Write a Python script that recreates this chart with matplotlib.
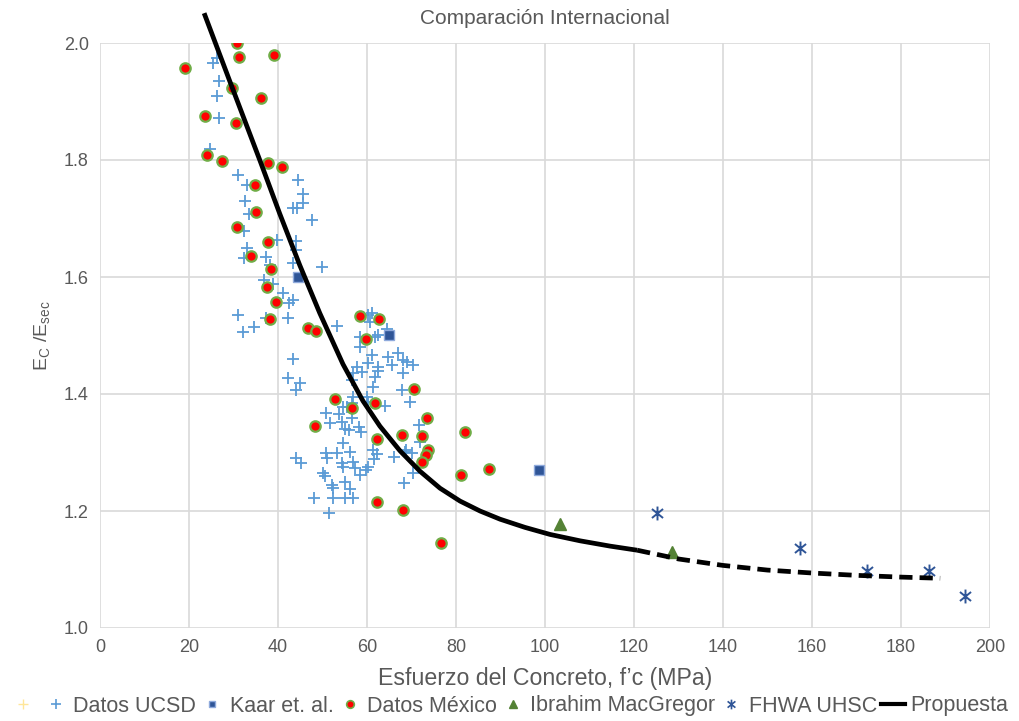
import numpy as np
import matplotlib
matplotlib.use("Agg")
import matplotlib.pyplot as plt
from matplotlib.lines import Line2D
from matplotlib.path import Path

# %% Data
ucsd_x = [25.4, 26.3, 26.7, 26.3, 26.7, 24.7, 31.0, 33.0, 32.6, 33.5, 32.4, 33.0, 32.4, 37.3, 38.2,
          36.9, 38.9, 39.8, 44.0, 44.0, 43.4, 49.9, 41.1, 43.4, 42.5, 31.0, 32.1, 34.6, 37.3, 42.2,
          53.3, 43.4, 42.2, 44.9, 44.0, 44.5, 45.6, 45.6, 43.4, 44.3, 47.6, 44.0, 45.2,
          60.2, 61.1, 60.7, 58.4, 61.8, 62.5, 64.5, 58.4, 61.1, 57.8, 60.2, 62.5, 62.5, 64.7, 67.0,
          65.6, 68.1, 69.0, 70.3, 56.9, 58.9, 56.6, 61.8, 68.1, 61.3, 67.9, 69.7, 56.9, 54.6, 55.5,
          60.2, 64.0, 71.7, 71.9, 68.5, 70.1, 70.3, 68.3, 66.1, 68.8, 61.3, 62.2, 61.6,
          50.8, 53.7, 51.7, 54.4, 56.6, 55.9, 58.2, 58.7, 55.1, 54.6, 50.8, 53.3, 56.2, 51.0, 54.4,
          54.6, 56.9, 57.3, 60.2, 59.8, 58.4, 50.1, 50.6, 52.1, 52.4, 55.1, 56.2, 48.1, 52.4, 55.1,
          56.9, 51.5, 56.6, 60.0]
ucsd_y = [1.966, 1.974, 1.935, 1.909, 1.872, 1.819, 1.774, 1.757, 1.730, 1.708, 1.679, 1.650, 1.632,
          1.634, 1.621, 1.595, 1.588, 1.663, 1.662, 1.646, 1.624, 1.617, 1.573, 1.561, 1.556, 1.535,
          1.506, 1.515, 1.530, 1.530, 1.516, 1.460, 1.427, 1.419, 1.407, 1.766, 1.742, 1.726, 1.718,
          1.718, 1.697, 1.291, 1.282,
          1.535, 1.538, 1.523, 1.497, 1.497, 1.501, 1.511, 1.480, 1.467, 1.446, 1.453, 1.446, 1.439,
          1.463, 1.470, 1.450, 1.458, 1.455, 1.450, 1.436, 1.438, 1.424, 1.429, 1.436, 1.412, 1.407,
          1.386, 1.395, 1.378, 1.378, 1.386, 1.379, 1.347, 1.318, 1.301, 1.299, 1.265, 1.248, 1.292,
          1.304, 1.304, 1.297, 1.289,
          1.368, 1.366, 1.350, 1.352, 1.359, 1.338, 1.344, 1.335, 1.340, 1.316, 1.299, 1.299, 1.301,
          1.291, 1.282, 1.275, 1.284, 1.274, 1.275, 1.270, 1.262, 1.265, 1.260, 1.244, 1.239, 1.250,
          1.238, 1.222, 1.222, 1.222, 1.222, 1.197, 1.385, 1.395]

kaar_x = [44.5, 64.9, 98.7]
kaar_y = [1.600, 1.501, 1.270]

mexico_x = [19.1, 30.8, 31.2, 39.1, 29.7, 36.2, 23.6, 30.6, 24.0, 27.4, 37.8, 40.9, 34.8, 35.1,
            30.8, 37.8, 33.9, 38.4, 37.5, 39.6, 38.2, 46.7, 48.5, 58.4, 62.7, 59.8, 70.6, 52.8,
            56.6, 61.8, 48.3, 73.5, 67.9, 72.4, 62.2, 73.7, 73.3, 72.4, 62.2, 68.1, 82.0, 81.1,
            87.4, 76.6]
mexico_y = [1.957, 2.000, 1.976, 1.979, 1.923, 1.906, 1.875, 1.863, 1.809, 1.798, 1.795, 1.788,
            1.757, 1.711, 1.685, 1.660, 1.636, 1.614, 1.583, 1.557, 1.528, 1.513, 1.508, 1.533,
            1.528, 1.494, 1.409, 1.391, 1.376, 1.385, 1.345, 1.359, 1.330, 1.328, 1.323, 1.304,
            1.296, 1.284, 1.215, 1.202, 1.335, 1.262, 1.272, 1.145]

ibrahim_x = [103.4, 128.5]
ibrahim_y = [1.178, 1.130]

fhwa_x = [125.2, 157.3, 172.4, 186.3, 194.4]
fhwa_y = [1.197, 1.137, 1.097, 1.097, 1.055]

# proposed curve: solid part up to 120 MPa, dashed beyond
prop_x = [23.4, 29.2, 36.0, 40.4, 44.9, 49.4, 54.6, 59.1, 62.9, 67.4, 71.9, 76.4, 80.9, 85.4,
          89.9, 95.5, 101.1, 107.9, 114.6, 120.7]
prop_y = [2.051, 1.934, 1.798, 1.708, 1.620, 1.538, 1.451, 1.388, 1.345, 1.303, 1.268, 1.239,
          1.217, 1.200, 1.186, 1.172, 1.160, 1.149, 1.140, 1.133]
prop_ext_x = [120.7, 130, 140, 150, 160, 170, 180, 188.8]
prop_ext_y = [1.133, 1.118, 1.107, 1.099, 1.094, 1.090, 1.087, 1.085]

# %% Style
plt.rcParams['font.family'] = ['Liberation Sans', 'DejaVu Sans']
plt.rcParams['mathtext.fontset'] = 'custom'
plt.rcParams['mathtext.rm'] = 'Liberation Sans'
gray = '#595959'

# Excel-like "X with vertical bar" marker
star_marker = Path([(0, -1), (0, 1), (-0.8, -0.65), (0.8, 0.65), (-0.8, 0.65), (0.8, -0.65)],
                   [Path.MOVETO, Path.LINETO, Path.MOVETO, Path.LINETO, Path.MOVETO, Path.LINETO])

fig = plt.figure(figsize=(10.19, 7.21), dpi=100)
ax = fig.add_axes([100 / 1019, 1 - 628 / 721, 890 / 1019, 585 / 721])

ax.plot(ucsd_x, ucsd_y, linestyle='none', marker='+', ms=9, mew=1.3, color='#5B9BD5', zorder=3)
ax.plot(kaar_x, kaar_y, linestyle='none', marker='s', ms=6.5, mfc='#2F5597', mec='#8FAADC',
        mew=1, zorder=4)
ax.plot(mexico_x, mexico_y, linestyle='none', marker='o', ms=7.5, mfc='#FF0000', mec='#70AD47',
        mew=1.6, zorder=4)
ax.plot(ibrahim_x, ibrahim_y, linestyle='none', marker='^', ms=8, color='#548235', zorder=4)
ax.plot(fhwa_x, fhwa_y, linestyle='none', marker=star_marker, ms=10, mew=1.4, color='#2F5597', zorder=4)
ax.plot(prop_x, prop_y, color='black', lw=3.4, solid_capstyle='butt', solid_joinstyle='round',
        zorder=5, clip_on=False)
ax.plot(prop_ext_x, prop_ext_y, color='black', lw=3.4, dashes=(2.8, 1.5), dash_capstyle='butt', zorder=5)

ax.set_xlim(0, 200)
ax.set_ylim(1.0, 2.0)
ax.set_xticks(np.arange(0, 201, 20))
ax.set_yticks(np.arange(1.0, 2.01, 0.2))
ax.set_yticklabels([f"{v:.1f}" for v in np.arange(1.0, 2.01, 0.2)])
ax.grid(True, color='#D9D9D9', lw=1.2)
ax.set_axisbelow(True)
for s in ax.spines.values():
    s.set_visible(False)
ax.tick_params(length=0, labelsize=13, labelcolor=gray, pad=8)

ax.set_title('Comparación Internacional', fontsize=15, color=gray, pad=14)
ax.set_xlabel('Esfuerzo del Concreto, f’c (MPa)', fontsize=16.7, color=gray, labelpad=8)
ax.set_ylabel(r'E$_\mathregular{C}$ /E$_\mathregular{sec}$', fontsize=14, color=gray, labelpad=8)

# %% Legend
h_yel = Line2D([], [], linestyle='none', marker='+', ms=7, mew=1, color='#FFE699')
h_ucsd = Line2D([], [], linestyle='none', marker='+', ms=7, mew=1.2, color='#5B9BD5')
h_kaar = Line2D([], [], linestyle='none', marker='s', ms=5, mfc='#2F5597', mec='#8FAADC')
h_mex = Line2D([], [], linestyle='none', marker='o', ms=5.5, mfc='#FF0000', mec='#70AD47', mew=1.2)
h_ibr = Line2D([], [], linestyle='none', marker='^', ms=6, color='#548235')
h_fhwa = Line2D([], [], linestyle='none', marker=star_marker, ms=7, mew=1.2, color='#2F5597')
h_prop = Line2D([], [], color='black', lw=3)

fig.legend([h_yel, h_ucsd, h_kaar, h_mex, h_ibr, h_fhwa, h_prop],
           ['', 'Datos UCSD', 'Kaar et. al.', 'Datos México', 'Ibrahim MacGregor', 'FHWA UHSC', 'Propuesta'],
           loc='center', bbox_to_anchor=(0.5, 1 - 706 / 721), ncol=7, frameon=False,
           fontsize=15.5, labelcolor=gray, handlelength=1.1, handletextpad=0.25,
           columnspacing=0.2, borderaxespad=0)

fig.savefig('out.png', dpi=100)
